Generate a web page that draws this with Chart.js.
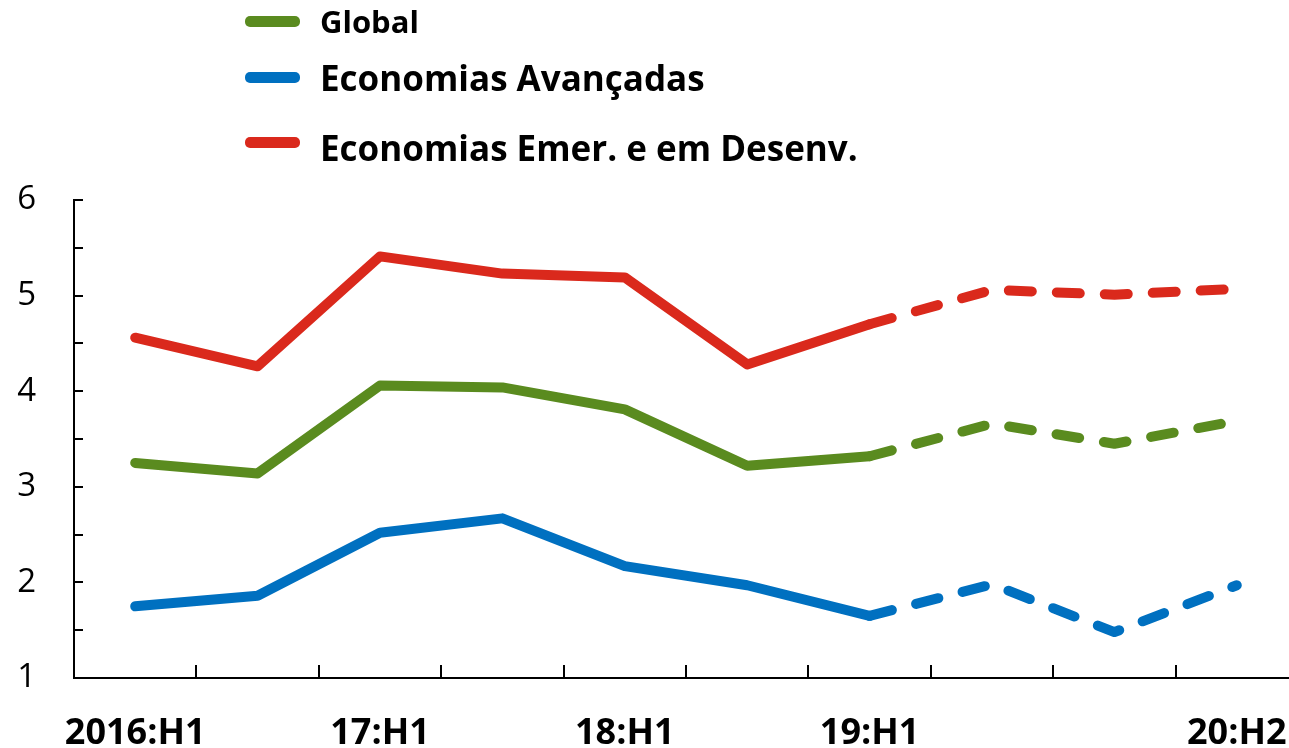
<!DOCTYPE html>
<html>
<head>
<meta charset="utf-8">
<script src="https://cdn.jsdelivr.net/npm/chart.js@4/dist/chart.umd.min.js"></script>
<style>
    body { margin: 0; overflow: hidden; background: #fff; font-family: "Open Sans", sans-serif; }
    #wrap { position: relative; width: 1298px; height: 748px; }
    #chart { display: block; width: 1298px; height: 748px; }
    .legend-item { position: absolute; left: 245px; display: flex; align-items: center; font-weight: bold; color: #000; white-space: nowrap; }
    .legend-item span.swatch { display: inline-block; width: 55px; height: 11px; border-radius: 5px; margin-right: 20px; }
</style>
</head>
<body>
<div id="wrap">
    <canvas id="chart" width="1298" height="748"></canvas>
    <div class="legend-item" style="top:0px; font-size:31px;"><span class="swatch" style="background:#5a8b1f"></span>Global</div>
    <div class="legend-item" style="top:54px; font-size:35px;"><span class="swatch" style="background:#0070c0"></span>Economias Avançadas</div>
    <div class="legend-item" style="top:124px; font-size:35px;"><span class="swatch" style="background:#da291c; position:relative; top:-5px;"></span>Economias Emer. e em Desenv.</div>
</div>
<script>
// Data
const categories = ["2016:H1", "16:H2", "17:H1", "17:H2", "18:H1", "18:H2", "19:H1", "19:H2", "20:H1", "20:H2"];
const tickLabels = ["2016:H1", "", "17:H1", "", "18:H1", "", "19:H1", "", "", "20:H2"];
const globalValues = [3.25, 3.14, 4.06, 4.04, 3.81, 3.22, 3.32, 3.66, 3.45, 3.69];
const advancedValues = [1.75, 1.86, 2.52, 2.67, 2.17, 1.97, 1.65, 1.98, 1.48, 1.97];
const emergingValues = [4.56, 4.26, 5.41, 5.23, 5.19, 4.28, 4.70, 5.06, 5.01, 5.07];
const lastActualIndex = 6; // projections dashed after this point

const dashAfter = (ctx) => (ctx.p0DataIndex >= lastActualIndex ? [23, 25] : undefined);

const makeSeries = function (label, data, color) {
    return {
        label: label,
        data: data,
        borderColor: color,
        backgroundColor: color,
        borderWidth: 10,
        borderCapStyle: "round",
        borderJoinStyle: "round",
        pointRadius: 0,
        tension: 0,
        segment: { borderDash: dashAfter },
    };
};

// inner tick marks for both axes
const innerTicks = {
    id: "innerTicks",
    afterDraw(chart) {
        const { ctx, chartArea, scales } = chart;
        ctx.save();
        ctx.strokeStyle = "#000";
        ctx.lineWidth = 2;
        ctx.beginPath();
        scales.y.ticks.forEach((t) => {
            const y = Math.round(scales.y.getPixelForValue(t.value));
            if (y >= chartArea.bottom - 1) return;
            ctx.moveTo(chartArea.left, y);
            ctx.lineTo(chartArea.left + 9, y);
        });
        for (let i = 0; i < categories.length - 1; i++) {
            const x = Math.round((scales.x.getPixelForValue(i) + scales.x.getPixelForValue(i + 1)) / 2);
            ctx.moveTo(x, chartArea.bottom);
            ctx.lineTo(x, chartArea.bottom - 13);
        }
        ctx.stroke();
        ctx.restore();
    },
};

new Chart(document.getElementById("chart"), {
    type: "line",
    data: {
        labels: categories,
        datasets: [
            makeSeries("Global", globalValues, "#5a8b1f"),
            makeSeries("Economias Avançadas", advancedValues, "#0070c0"),
            makeSeries("Economias Emer. e em Desenv.", emergingValues, "#da291c"),
        ],
    },
    options: {
        responsive: false,
        animation: false,
        layout: { padding: { top: 200, right: 0, left: 0, bottom: 0 } },
        plugins: { legend: { display: false }, tooltip: { enabled: false } },
        scales: {
            x: {
                offset: true,
                afterFit: (s) => {
                    s.height = 70;
                    s.paddingLeft = 0;
                    s.paddingRight = 0;
                },
                grid: { display: true, drawOnChartArea: false, drawTicks: false },
                border: { display: true, color: "#000", width: 2 },
                ticks: {
                    autoSkip: false,
                    maxRotation: 0,
                    padding: 34,
                    color: "#000",
                    font: { family: "Open Sans", size: 36, weight: "bold" },
                    callback: (v, i) => tickLabels[i],
                },
            },
            y: {
                min: 1,
                max: 6,
                afterFit: (s) => { s.width = 74; },
                grid: { display: true, drawOnChartArea: false, drawTicks: false },
                border: { display: true, color: "#000", width: 2 },
                ticks: {
                    stepSize: 0.5,
                    padding: 38,
                    color: "#000",
                    font: { family: "Open Sans", size: 33 },
                    callback: (v) => (Number.isInteger(v) ? v : ""),
                },
            },
        },
    },
    plugins: [innerTicks],
});
</script>
</body>
</html>
